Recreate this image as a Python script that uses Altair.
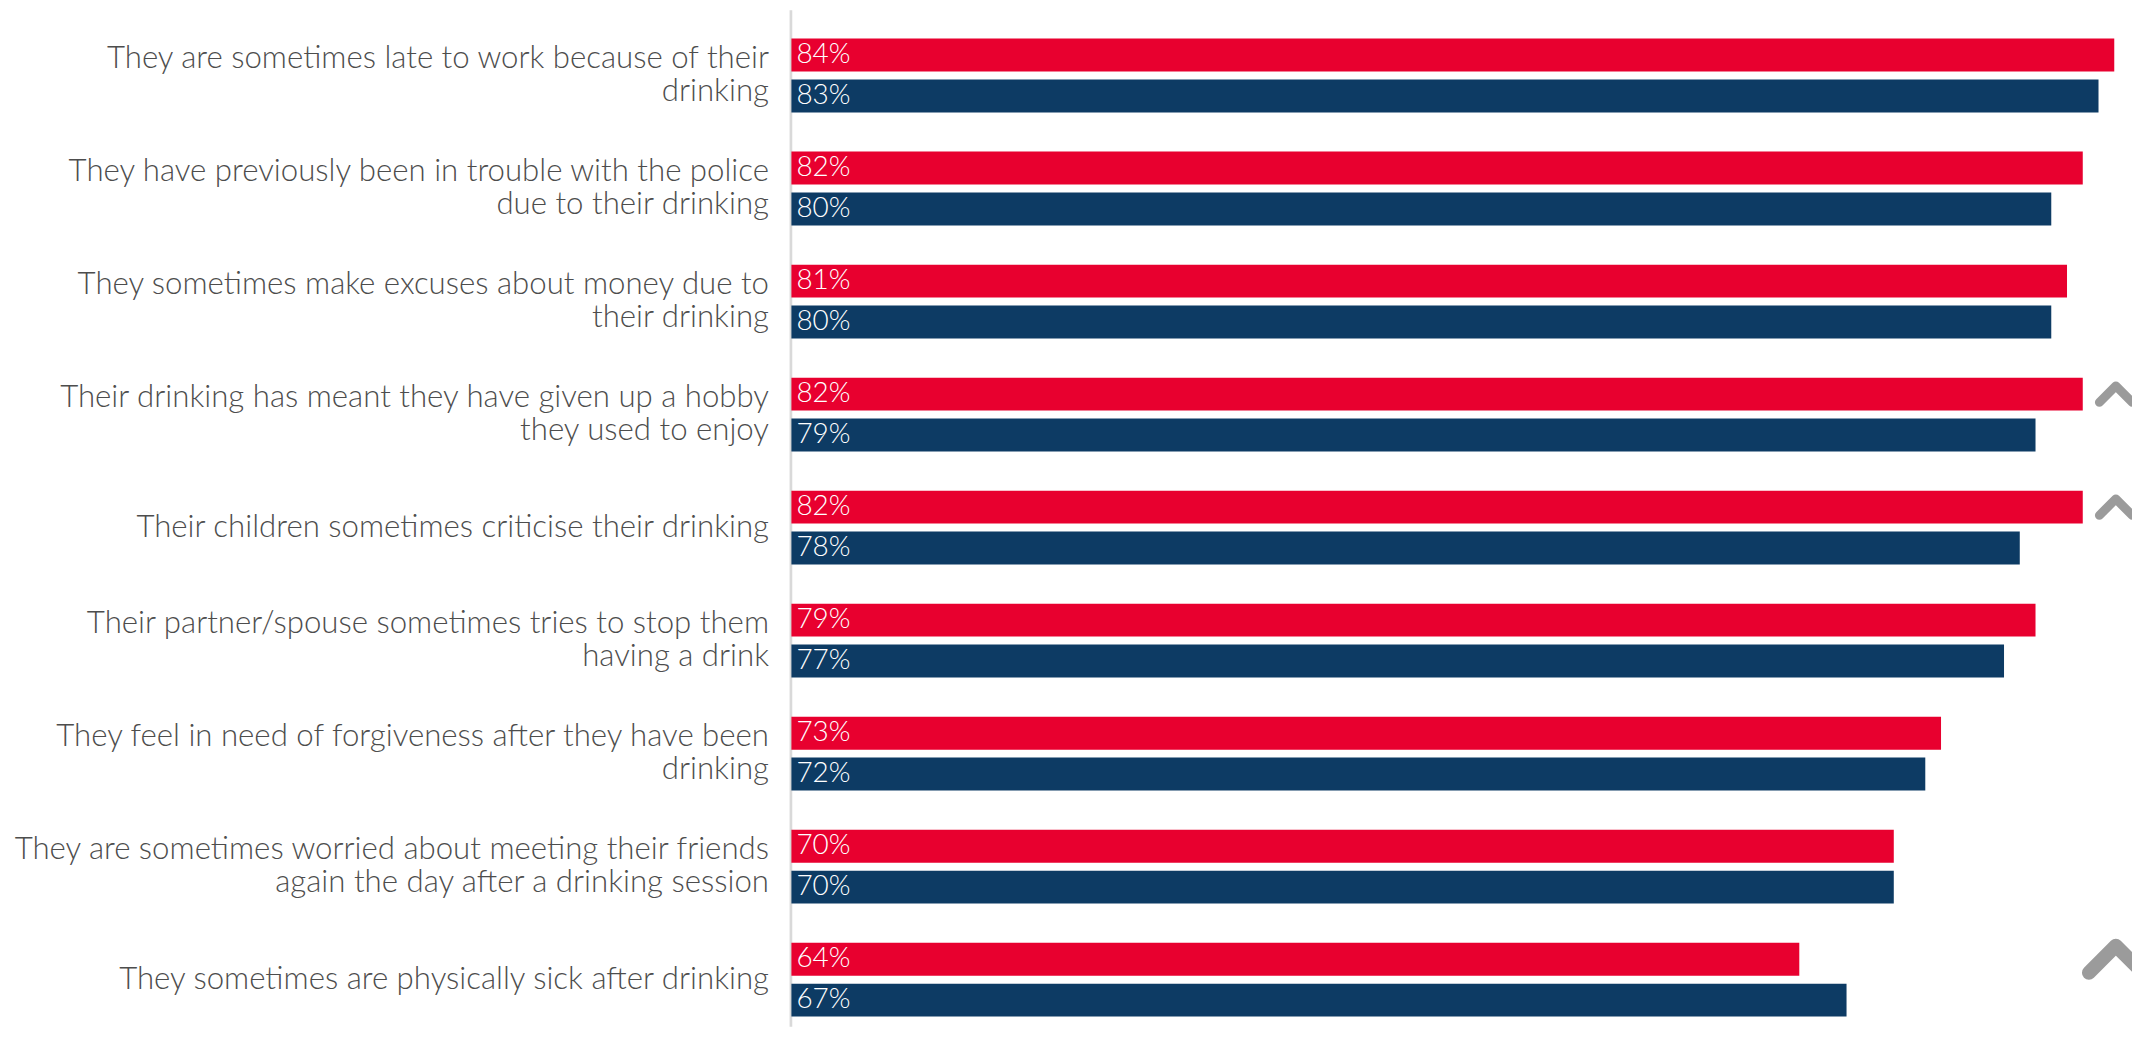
import altair as alt
import pandas as pd

categories = [
    "They are sometimes late to work because of their|drinking",
    "They have previously been in trouble with the police|due to their drinking",
    "They sometimes make excuses about money due to|their drinking",
    "Their drinking has meant they have given up a hobby|they used to enjoy",
    "Their children sometimes criticise their drinking",
    "Their partner/spouse sometimes tries to stop them|having a drink",
    "They feel in need of forgiveness after they have been|drinking",
    "They are sometimes worried about meeting their friends|again the day after a drinking session",
    "They sometimes are physically sick after drinking",
]
series_names = ["Series 1", "Series 2"]
red_values = [84, 82, 81, 82, 82, 79, 73, 70, 64]
blue_values = [83, 80, 80, 79, 78, 77, 72, 70, 67]
# significance marker (0 = none, 1 = up, 2 = strong up)
sig_levels = [0, 0, 0, 1, 1, 0, 0, 0, 2]

rows = []
for c, r, b in zip(categories, red_values, blue_values):
    rows.append({"category": c, "series": series_names[0], "value": r, "label": f"{r}%"})
    rows.append({"category": c, "series": series_names[1], "value": b, "label": f"{b}%"})
df = pd.DataFrame(rows)

sig_df = pd.DataFrame(
    [{"category": c, "series": series_names[0], "level": s} for c, s in zip(categories, sig_levels) if s > 0]
)

FONT = "Lato"

y_enc = alt.Y(
    "category:N",
    sort=categories,
    scale=alt.Scale(paddingInner=0.347, paddingOuter=0.171, align=0.748),
    axis=alt.Axis(
        title=None,
        labelExpr="split(datum.label, '|')",
        labelFont=FONT,
        labelFontSize=31.3,
        labelFontWeight=300,
        labelColor="#4d4d4d",
        labelLimit=900,
        labelPadding=22,
        labelLineHeight=33,
        labelOffset={"condition": {"test": "indexof(datum.value, '|') >= 0", "value": -16.5}, "value": 0},
        ticks=False,
        grid=False,
        domainColor="#d9d9d9",
        domainWidth=2.7,
        offset=1,
    ),
)
yoff_enc = alt.YOffset(
    "series:N",
    sort=series_names,
    scale=alt.Scale(paddingInner=0.195, paddingOuter=0),
)
x_scale = alt.Scale(domain=[0, 85], nice=False, zero=True)

bars = alt.Chart(df).mark_bar().encode(
    x=alt.X("value:Q", scale=x_scale, axis=None),
    y=y_enc,
    yOffset=yoff_enc,
    color=alt.Color(
        "series:N",
        scale=alt.Scale(domain=series_names, range=["#E8002F", "#0D3B64"]),
        legend=None,
    ),
)

texts = alt.Chart(df).mark_text(
    align="left", baseline="middle", dx=5, color="white", fontSize=28, fontWeight=300, font=FONT
).encode(
    x=alt.datum(0),
    y=y_enc,
    yOffset=yoff_enc,
    text="label:N",
)

chevrons = alt.Chart(sig_df).mark_point(
    shape="M-1,0.5L0,-0.5L1,0.5",
    filled=False,
    strokeCap="round",
    strokeJoin="round",
    color="#9b9b9b",
    opacity=1,
).encode(
    x=alt.datum(84.1),
    y=y_enc,
    yOffset=yoff_enc,
    size=alt.Size("level:Q", scale=alt.Scale(domain=[1, 2], range=[1089, 2916]), legend=None),
    strokeWidth=alt.StrokeWidth("level:Q", scale=alt.Scale(domain=[1, 2], range=[9, 14]), legend=None),
)

chart = (
    alt.layer(bars, texts, chevrons)
    .properties(
        width=1343,
        height=1020,
        autosize=alt.AutoSizeParams(type="none"),
        padding={"left": 786, "top": 0, "right": 2, "bottom": 0},
    )
    .configure_view(stroke=None)
)

chart.save("out.html", embed_options={"renderer": "svg", "actions": False})
